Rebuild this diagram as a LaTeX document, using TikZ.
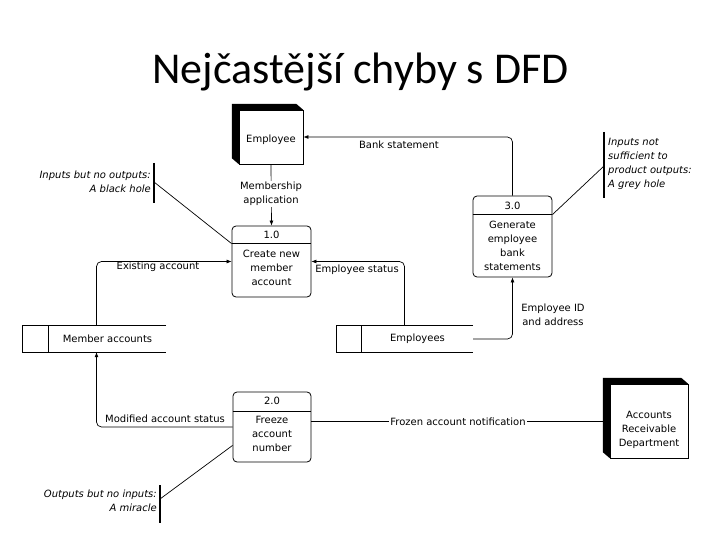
\documentclass[tikz,border=0pt]{standalone}
\usepackage{fontspec}
\setmainfont{DejaVu Sans}
\newfontfamily\titlefont{Carlito}
\newfontfamily\lblfont{DejaVu Sans}
\usetikzlibrary{arrows.meta,calc}
\tikzset{
  lbl/.style={font=\lblfont\fontsize{10}{14}\selectfont, align=center, inner sep=1pt},
  note/.style={font=\lblfont\itshape\fontsize{10}{14}\selectfont, inner sep=0pt},
  proc/.style={draw, rounded corners=4pt, line width=0.8pt, inner sep=0pt},
  front/.style={draw, fill=white, line width=0.8pt, inner sep=0pt},
  store/.style={inner sep=0pt, minimum height=26pt},
  arr/.style={line width=0.7pt, -{Latex[length=5pt,width=4pt]}},
  conn/.style={line width=0.7pt},
  bar/.style={line width=1.3pt},
}
\begin{document}
\begin{tikzpicture}[x=1pt,y=-1pt]
\useasboundingbox[fill=white] (0,0) rectangle (720,540);
% title
\node[font=\titlefont\fontsize{44}{48}\selectfont, anchor=base] (title) at (360.5,84) {Nejčastější chyby s DFD};

% external entity: Employee
\node[minimum width=64pt, minimum height=54pt] (emp) at (271,137) {};
\fill ($(emp.north west)+(-7,-6)$) -- ($(emp.north east)+(-7,-6)$) -- (emp.north east) -- (emp.south east) -- (emp.south west) -- ($(emp.south west)+(-7,-6)$) -- cycle;
\node[front, minimum width=64pt, minimum height=54pt] (empf) at (emp) {};
\node[lbl] (emptext) at (271,140) {Employee};

% external entity: Accounts Receivable Department
\node[minimum width=78pt, minimum height=74pt] (ard) at (649,421) {};
\fill ($(ard.north west)+(-7,-6)$) -- ($(ard.north east)+(-7,-6)$) -- (ard.north east) -- (ard.south east) -- (ard.south west) -- ($(ard.south west)+(-7,-6)$) -- cycle;
\node[front, minimum width=78pt, minimum height=74pt] (ardf) at (ard) {};
\node[lbl] (ardtext) at (649,430) {Accounts\\Receivable\\Department};

% process 1.0
\node[proc, minimum width=79pt, minimum height=71pt] (p1) at (271.5,261.5) {};
\draw[line width=0.8pt] ([yshift=-18pt]p1.north west) -- ([yshift=-18pt]p1.north east);
\node[lbl] (p1id) at (271.5,235) {1.0};
\node[lbl] (p1text) at (271.5,267.5) {Create new\\member\\account};

% process 3.0
\node[proc, minimum width=79pt, minimum height=81pt] (p3) at (512.5,236.5) {};
\draw[line width=0.8pt] ([yshift=-19pt]p3.north west) -- ([yshift=-19pt]p3.north east);
\node[lbl] (p3id) at (512.5,206) {3.0};
\node[lbl] (p3text) at (512.5,245.5) {Generate\\employee\\bank\\statements};

% process 2.0
\node[proc, minimum width=78pt, minimum height=70pt] (p2) at (272,427) {};
\draw[line width=0.8pt] ([yshift=-20pt]p2.north west) -- ([yshift=-20pt]p2.north east);
\node[lbl] (p2id) at (272,401) {2.0};
\node[lbl] (p2text) at (272,433.5) {Freeze\\account\\number};

% data stores
\node[store, minimum width=117pt] (ms) at (107.5,339) {};
\draw[line width=0.8pt] (ms.north east) -| ([xshift=-26pt]ms.south west) -- (ms.south east);
\draw[line width=0.8pt] (ms.north west) -- (ms.south west);
\node[lbl] (mstext) at (ms) {Member accounts};

\node[store, minimum width=111pt] (es) at (417.5,339) {};
\draw[line width=0.8pt] (es.north east) -| ([xshift=-25pt]es.south west) -- (es.south east);
\draw[line width=0.8pt] (es.north west) -- (es.south west);
\node[lbl] (estext) at (es) {Employees};

% flows
\draw[arr] (empf.south) -- (p1.north);
\node[lbl, fill=white] (memapp) at (271,194) {Membership\\application};

\draw[arr, rounded corners=5pt] (p3.north) |- (empf.east);
\node[lbl] (bank) at (399,144.5) {Bank statement};

\draw[arr, rounded corners=5pt] ([xshift=-11pt]ms.north) |- (p1.west);
\node[lbl] (exist) at (158,267) {Existing account};

\draw[arr, rounded corners=5pt] ([xshift=-13pt]es.north) |- (p1.east);
\node[lbl] (empstat) at (357,270) {Employee status};

\draw[arr, rounded corners=5pt] (es.east) -| (p3.south);
\node[lbl] (empid) at (553,314.5) {Employee ID\\and address};

\draw[arr, rounded corners=5pt] (p2.west) -| ([xshift=-11pt]ms.south);
\node[lbl] (modif) at (165,419) {Modified account status};

\draw[arr] (p2.east |- ardf.west) -- (ardf.west);
\node[lbl, fill=white] (frozen) at (458,422) {Frozen account notification};

% annotations
\draw[bar] (154,163) -- (154,203);
\coordinate (bhbar) at (154,182);
\node[note, anchor=east, align=right] (bh) at (151,182) {Inputs but no outputs:\\A black hole};
\draw[conn] (bhbar) -- ([yshift=-18pt]p1.north west);

\draw[bar] (604,132) -- (604,198);
\coordinate (ghbar) at (604,166);
\node[note, anchor=west, align=left] (gh) at (608,164) {Inputs not\\sufficient to\\product outputs:\\A grey hole};
\draw[conn] (ghbar) -- ([yshift=-19pt]p3.north east);

\draw[bar] (160,485) -- (160,523);
\coordinate (mbar) at (160,499);
\node[note, anchor=east, align=right] (mir) at (157,501) {Outputs but no inputs:\\A miracle};
\draw[conn] (mbar) -- ([yshift=17pt]p2.south west);
\end{tikzpicture}
\end{document}
